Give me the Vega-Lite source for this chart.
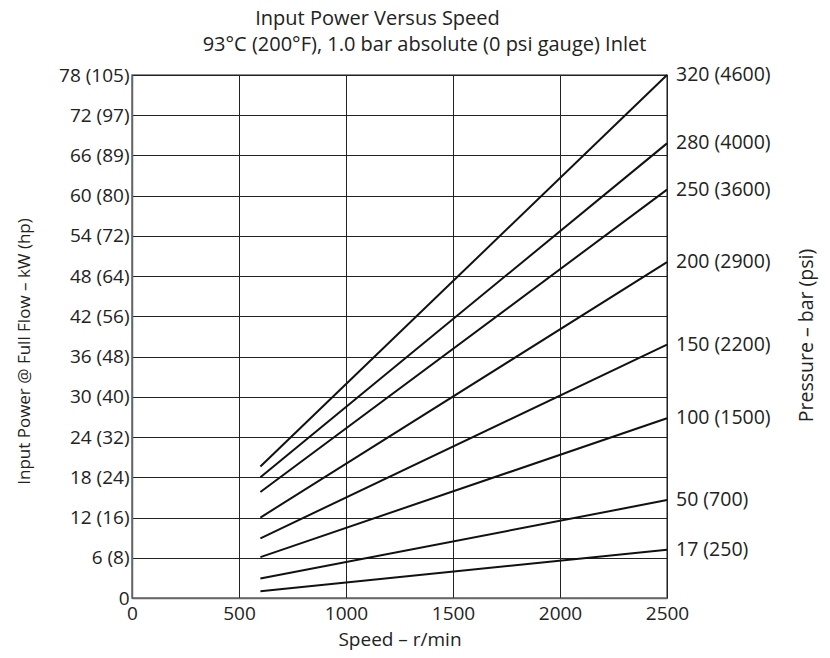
{
  "$schema": "https://vega.github.io/schema/vega-lite/v6.json",
  "autosize": {"type": "none"},
  "width": 535,
  "height": 523,
  "padding": {"left": 132, "top": 75, "right": 163, "bottom": 60},
  "background": "white",
  "config": {
    "font": "Open Sans",
    "view": {"stroke": "#666", "strokeWidth": 1.5},
    "axis": {"labelFont": "Open Sans", "titleFont": "Open Sans", "labelColor": "#222", "titleColor": "#222", "titleFontWeight": "normal"}
  },
  "title": {"text": "Input Power Versus Speed", "fontSize": 20, "fontWeight": "normal", "font": "Open Sans", "color": "#222", "frame": "group", "anchor": "middle", "dx": -22, "offset": 5},
  "datasets": {
    "curves": [
      {"pressure": "320 (4600)", "speed": 600, "power": 19.6},
      {"pressure": "320 (4600)", "speed": 2500, "power": 78},
      {"pressure": "280 (4000)", "speed": 600, "power": 18.0},
      {"pressure": "280 (4000)", "speed": 2500, "power": 67.8},
      {"pressure": "250 (3600)", "speed": 600, "power": 15.8},
      {"pressure": "250 (3600)", "speed": 2500, "power": 60.9},
      {"pressure": "200 (2900)", "speed": 600, "power": 12.0},
      {"pressure": "200 (2900)", "speed": 2500, "power": 50.1},
      {"pressure": "150 (2200)", "speed": 600, "power": 8.9},
      {"pressure": "150 (2200)", "speed": 2500, "power": 37.8},
      {"pressure": "100 (1500)", "speed": 600, "power": 6.1},
      {"pressure": "100 (1500)", "speed": 2500, "power": 26.8},
      {"pressure": "50 (700)", "speed": 600, "power": 2.9},
      {"pressure": "50 (700)", "speed": 2500, "power": 14.6},
      {"pressure": "17 (250)", "speed": 600, "power": 1.0},
      {"pressure": "17 (250)", "speed": 2500, "power": 7.2}
    ]
  },
  "data": {"name": "curves"},
  "resolve": {"axis": {"x": "independent", "y": "independent"}},
  "layer": [
    {
      "mark": {"type": "line", "color": "#111", "strokeWidth": 2},
      "encoding": {
        "x": {"field": "speed", "type": "quantitative", "scale": {"domain": [0, 2500], "nice": false},
              "axis": {"values": [0, 500, 1000, 1500, 2000, 2500], "format": "d", "title": "Speed – r/min", "titleFontSize": 19, "labelFontSize": 19, "grid": true, "gridColor": "#222", "gridWidth": 1, "gridOpacity": 1, "ticks": false, "labelPadding": 6, "titlePadding": 7, "domainColor": "#666", "domainWidth": 1.5, "labelFlush": false}},
        "y": {"field": "power", "type": "quantitative", "scale": {"domain": [0, 78], "nice": false},
              "axis": {"values": [0, 6, 12, 18, 24, 30, 36, 42, 48, 54, 60, 66, 72, 78], "labelExpr": "datum.value == 0 ? '0' : datum.value + ' (' + round(datum.value * 1.341) + ')'", "title": "Input Power @ Full Flow – kW (hp)", "titleFontSize": 17, "labelFontSize": 19, "grid": true, "gridColor": "#222", "gridWidth": 1, "gridOpacity": 1, "ticks": false, "labelPadding": 3, "domainColor": "#666", "domainWidth": 1.5, "titleX": -108, "titleY": 276, "titleBaseline": "middle", "titleAlign": "center", "labelFlush": false}},
        "detail": {"field": "pressure"}
      }
    },
    {
      "transform": [{"filter": "datum.speed == 2500"}],
      "mark": {"type": "text", "align": "left", "baseline": "middle", "dx": 9, "fontSize": 19.5, "color": "#222", "font": "Open Sans"},
      "encoding": {
        "x": {"field": "speed", "type": "quantitative", "scale": {"domain": [0, 2500], "nice": false},
              "axis": {"orient": "top", "labels": false, "ticks": false, "domain": false, "grid": false, "title": "93°C (200°F), 1.0 bar absolute (0 psi gauge) Inlet", "titleFontSize": 20, "titleX": 292, "titleY": -31, "titleBaseline": "middle", "titleAlign": "center"}},
        "y": {"field": "power", "type": "quantitative", "scale": {"domain": [0, 78], "nice": false},
              "axis": {"orient": "right", "labels": false, "ticks": false, "domain": false, "grid": false, "title": "Pressure – bar (psi)", "titleFontSize": 19.5, "titleAngle": 270, "titleX": 139, "titleY": 260, "titleBaseline": "middle", "titleAlign": "center"}},
        "text": {"field": "pressure"}
      }
    }
  ]
}
